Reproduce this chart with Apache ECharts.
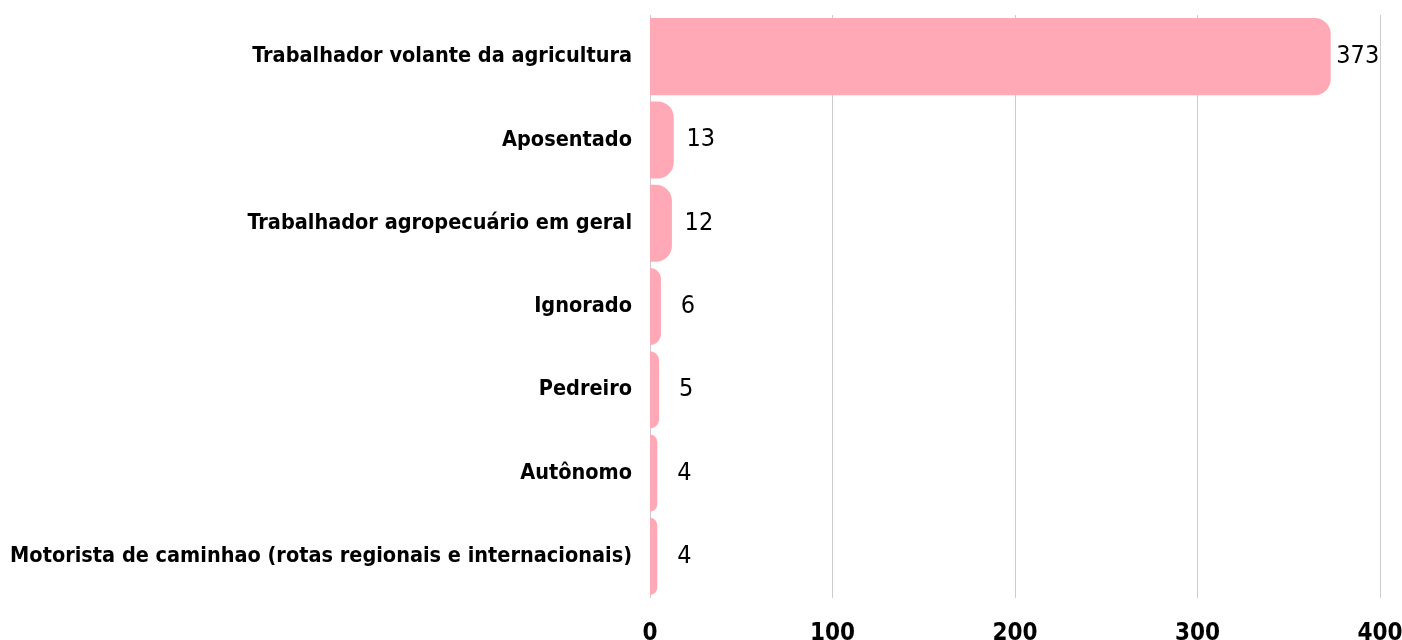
<!DOCTYPE html>
<html>
<head>
<meta charset="utf-8">
<script src="https://cdn.jsdelivr.net/npm/echarts@6/dist/echarts.min.js"></script>
<style>
  html, body { margin: 0; padding: 0; background: #fff; }
  #main { width: 1402px; height: 640px; }
</style>
</head>
<body>
<div id="main"></div>
<script>
const categories = [
  "Trabalhador volante da agricultura",
  "Aposentado",
  "Trabalhador agropecuário em geral",
  "Ignorado",
  "Pedreiro",
  "Autônomo",
  "Motorista de caminhao (rotas regionais e internacionais)",
];
const values = [373, 13, 12, 6, 5, 4, 4];
const xTicks = [0, 100, 200, 300, 400];

const labelFont = "'Liberation Sans Narrow', 'DejaVu Sans Condensed', sans-serif";

const myChart = echarts.init(document.getElementById("main"));

myChart.setOption({
  animation: false,
  grid: { left: 650, right: 22, top: 15, bottom: 42, outerBoundsMode: "none", containLabel: false },
  xAxis: {
    type: "value",
    min: xTicks[0],
    max: xTicks[xTicks.length - 1],
    interval: 100,
    axisLine: { show: false },
    axisTick: { show: false },
    splitLine: { show: true, lineStyle: { color: "#cccccc", width: 1 } },
    axisLabel: {
      color: "#000",
      fontFamily: labelFont,
      fontWeight: "bold",
      fontSize: 24,
      margin: 24,
    },
  },
  yAxis: {
    type: "category",
    data: categories,
    inverse: true,
    axisLine: { show: false },
    axisTick: { show: false },
    axisLabel: {
      color: "#000",
      fontFamily: labelFont,
      fontWeight: "bold",
      fontSize: 21.5,
      margin: 18,
    },
  },
  series: [
    {
      type: "bar",
      data: values,
      barCategoryGap: "7.5%",
      itemStyle: { color: "#ffa9b6", borderRadius: [0, 16, 16, 0] },
      label: {
        show: true,
        position: "right",
        distance: 27,
        align: "center",
        color: "#000",
        fontFamily: labelFont,
        fontSize: 25,
      },
    },
  ],
});
</script>
</body>
</html>
